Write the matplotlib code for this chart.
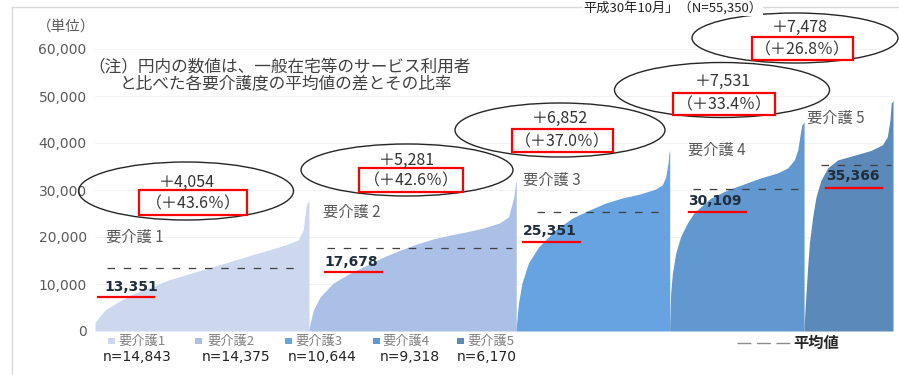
import matplotlib
matplotlib.use("Agg")
import matplotlib.pyplot as plt
from matplotlib.patches import Ellipse, Rectangle
from matplotlib.lines import Line2D
import numpy as np

plt.rcParams['font.family'] = ['Noto Sans CJK JP', 'DejaVu Sans']

# ---------------- data ----------------
categories = ["要介護1", "要介護2", "要介護3", "要介護4", "要介護5"]
seg_labels = ["要介護 1", "要介護 2", "要介護 3", "要介護 4", "要介護 5"]
counts = [14843, 14375, 10644, 9318, 6170]
means = [13351, 17678, 25351, 30109, 35366]
diffs = ["＋4,054", "＋5,281", "＋6,852", "＋7,531", "＋7,478"]
ratios = ["（＋43.6％）", "（＋42.6％）", "（＋37.0％）", "（＋33.4％）", "（＋26.8％）"]
mean_labels = ["13,351", "17,678", "25,351", "30,109", "35,366"]
n_labels = ["n=14,843", "n=14,375", "n=10,644", "n=9,318", "n=6,170"]
yticks = [0, 10000, 20000, 30000, 40000, 50000, 60000]
ytick_labels = ["0", "10,000", "20,000", "30,000", "40,000", "50,000", "60,000"]

# sorted per-user amounts (rank share within level -> amount)
pct1 = [0, 0.047, 0.109, 0.187, 0.265, 0.343, 0.42, 0.50, 0.576, 0.654, 0.732, 0.81, 0.888, 0.95, 0.973, 0.984, 0.99, 1.0]
val1 = [1800, 4470, 6200, 8100, 9400, 10850, 11900, 13000, 14000, 15100, 16200, 17200, 18300, 19400, 21500, 25700, 27200, 27600]
pct2 = [0, 0.021, 0.053, 0.117, 0.198, 0.279, 0.357, 0.44, 0.52, 0.60, 0.68, 0.76, 0.84, 0.92, 0.963, 0.988, 0.997, 1.0]
val2 = [600, 4470, 7230, 10200, 12300, 14000, 15700, 17200, 18500, 19600, 20400, 21100, 21900, 23000, 24300, 28500, 31500, 31800]
pct3 = [0, 0.015, 0.037, 0.08, 0.146, 0.255, 0.364, 0.473, 0.58, 0.69, 0.80, 0.908, 0.952, 0.974, 0.989, 0.995, 1.0]
val3 = [800, 6000, 10200, 14500, 17900, 21500, 24000, 25700, 27200, 28300, 29100, 30200, 31100, 32800, 35700, 37900, 38500]
pct4 = [0, 0.007, 0.02, 0.045, 0.082, 0.132, 0.18, 0.306, 0.43, 0.555, 0.68, 0.80, 0.878, 0.928, 0.953, 0.973, 0.983, 1.0]
val4 = [1500, 8000, 12300, 16600, 20100, 23000, 25100, 28300, 30000, 31300, 32600, 33600, 34700, 36400, 38500, 42100, 43800, 44500]
pct5 = [0, 0.022, 0.041, 0.06, 0.097, 0.135, 0.19, 0.266, 0.378, 0.566, 0.75, 0.88, 0.936, 0.966, 0.98, 1.0]
val5 = [1000, 8000, 13700, 18700, 24300, 28600, 32100, 34700, 36400, 37400, 38400, 39600, 41300, 44900, 48500, 49000]
pcts = [pct1, pct2, pct3, pct4, pct5]
vals = [val1, val2, val3, val4, val5]

# ---------------- style / layout ----------------
colors = ["#CDD8EE", "#AAC0E6", "#66A3E0", "#6198CF", "#5A89BA"]
W, H = 899, 375
dash_span = [(0.056, 0.935), (0.087, 0.98), (0.137, 0.96), (0.17, 0.96), (0.19, 0.98)]


def fx(x):
    return x / W


def fy(y):
    return 1 - y / H


fig = plt.figure(figsize=(W / 100, H / 100), dpi=100)
ax = fig.add_axes([fx(95), fy(331), (893 - 95) / W, (331 - 49) / H])
total = sum(counts)
ax.set_xlim(0, total)
ax.set_ylim(0, 60000)
for s in ax.spines.values():
    s.set_visible(False)
ax.set_xticks([])
ax.set_yticks(yticks)
ax.set_yticklabels(ytick_labels, family="DejaVu Sans", fontsize=10, color="#595959")
ax.tick_params(axis="y", length=0, pad=6)
ax.grid(axis="y", color="#F2F2F2", lw=0.8)
ax.set_axisbelow(True)

starts = np.concatenate([[0], np.cumsum(counts)[:-1]])
for i in range(5):
    x = starts[i] + np.array(pcts[i]) * counts[i]
    ax.fill_between(x, vals[i], 0, color=colors[i], lw=0, zorder=2)
    a, b = dash_span[i]
    ax.plot([starts[i] + a * counts[i], starts[i] + b * counts[i]], [means[i], means[i]],
            color="#404040", lw=0.9, ls=(0, (6, 7)), zorder=3)

# frame
fig.add_artist(Line2D([fx(12), fx(899)], [fy(7), fy(7)], color="#D9D9D9", lw=1, zorder=0))
fig.add_artist(Line2D([fx(12), fx(12)], [fy(7), fy(375)], color="#D9D9D9", lw=1, zorder=0))

# title (top right)
fig.text(fx(583), fy(1), "平成30年10月」（N=55,350）", fontsize=9.5, color="#222222",
         ha="left", va="top", zorder=5,
         bbox=dict(facecolor="white", edgecolor="none", pad=0.5))

fig.text(fx(37), fy(27), "（単位）", fontsize=10.5, color="#595959", ha="left", va="center")
fig.text(fx(88), fy(68), "（注）円内の数値は、一般在宅等のサービス利用者", fontsize=12,
         color="#404040", ha="left", va="center")
fig.text(fx(120), fy(85), "と比べた各要介護度の平均値の差とその比率", fontsize=12,
         color="#404040", ha="left", va="center")

# ellipses with differences
ell = [(186, 191, 215, 58), (407, 170, 212, 52), (560, 130, 210, 54), (722, 90, 215, 55), (795, 38, 206, 50)]
dtxt = [(187, 182), (407, 160), (560, 118), (723, 81), (800, 27)]
rects = [(139, 190, 108, 25), (359, 168, 104, 24), (512, 129, 101, 23), (673, 93, 102, 22), (752, 37, 101, 23)]
for i in range(5):
    cx, cy, w, h = ell[i]
    fig.add_artist(Ellipse((fx(cx), fy(cy)), w / W, h / H, transform=fig.transFigure,
                           facecolor="none", edgecolor="#262626", lw=1.0))
    fig.text(fx(dtxt[i][0]), fy(dtxt[i][1]), diffs[i], fontsize=11.5, color="#333333",
             ha="center", va="center")
    rx, ry, rw, rh = rects[i]
    fig.add_artist(Rectangle((fx(rx), fy(ry + rh)), rw / W, rh / H, transform=fig.transFigure,
                             facecolor="white", edgecolor="#FF0000", lw=1.6))
    fig.text(fx(rx + rw / 2), fy(ry + rh / 2 + 1), ratios[i], fontsize=11.5, color="#333333",
             ha="center", va="center")

# segment labels
seg_pos = [(106, 237), (323, 212), (523, 180), (688, 150), (807, 118)]
for i in range(5):
    fig.text(fx(seg_pos[i][0]), fy(seg_pos[i][1]), seg_labels[i], fontsize=11,
             color="#595959", ha="left", va="center")

# mean value labels with red underline
num_pos = [(104, 287), (324, 262), (523, 231), (688, 201), (826, 176)]
ul = [(98, 154, 297), (325, 382, 272), (523, 580, 242), (689, 746, 212), (826, 882, 188)]
for i in range(5):
    fig.text(fx(num_pos[i][0]), fy(num_pos[i][1]), mean_labels[i], family="DejaVu Sans",
             fontsize=10, fontweight="bold", color="#1F2D3D", ha="left", va="center")
    x0, x1, yy = ul[i]
    fig.add_artist(Line2D([fx(x0), fx(x1)], [fy(yy), fy(yy)], color="#FF0000", lw=1.6))

# legend
sq = [108, 195, 285, 373, 457]
lt = [118, 207, 295, 382, 467]
nx = [103, 202, 288, 380, 457]
for i in range(5):
    fig.add_artist(Rectangle((fx(sq[i]), fy(344)), 7 / W, 6 / H, transform=fig.transFigure,
                             facecolor=colors[i], edgecolor="none"))
    fig.text(fx(lt[i]), fy(341), categories[i], fontsize=9.5, color="#808080",
             ha="left", va="center")
    fig.text(fx(nx[i]), fy(357), n_labels[i], family="DejaVu Sans", fontsize=10,
             color="#222222", ha="left", va="center")

fig.add_artist(Line2D([fx(737), fx(790)], [fy(343), fy(343)], color="#8C8C8C", lw=1,
                      ls=(0, (10, 4))))
fig.text(fx(793), fy(343), "平均値", fontsize=11, fontweight="bold", color="#262626",
         ha="left", va="center")

fig.savefig("out.png", dpi=100, facecolor="white")
